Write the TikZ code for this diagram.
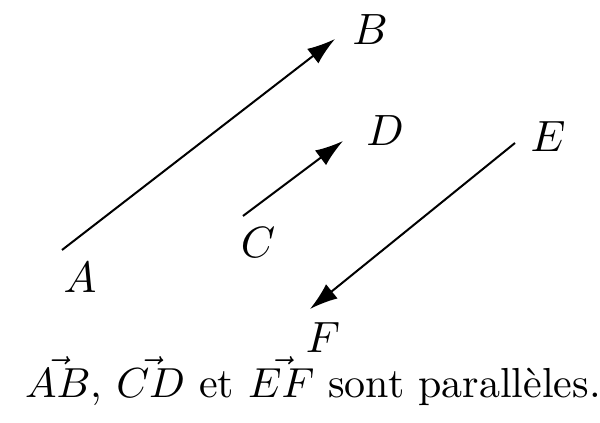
\documentclass[tikz,border=0pt]{standalone}
\usetikzlibrary{arrows.meta}
\begin{document}
\begin{tikzpicture}[
    x=0.25pt, y=-0.25pt,
    vec/.style={-{Latex[length=7pt,width=4.6pt]}, line width=0.5pt},
    lbl/.style={inner sep=0pt, font=\fontsize{10.6}{13}\selectfont}
  ]
  \useasboundingbox (0,0) rectangle (600,423);
  % end points
  \coordinate (a) at (62,250);
  \coordinate (b) at (335,39);
  \coordinate (c) at (243,216);
  \coordinate (d) at (343,141);
  \coordinate (e) at (515,143);
  \coordinate (f) at (310,309);
  % vectors
  \draw[vec] (a) -- (b);
  \draw[vec] (c) -- (d);
  \draw[vec] (e) -- (f);
  % labels
  \node[lbl] (A) at (80,278) {$A$};
  \node[lbl] (B) at (370,30) {$B$};
  \node[lbl] (C) at (258,243) {$C$};
  \node[lbl] (D) at (385,131) {$D$};
  \node[lbl] (E) at (548,137) {$E$};
  \node[lbl] (F) at (323,338) {$F$};
  \node[lbl, font=\fontsize{10}{12}\selectfont] (cap) at (313,381)
    {\scalebox{1.05}{$\vec{AB}$, $\vec{CD}$ et $\vec{EF}$ sont parallèles.}};
\end{tikzpicture}
\end{document}
